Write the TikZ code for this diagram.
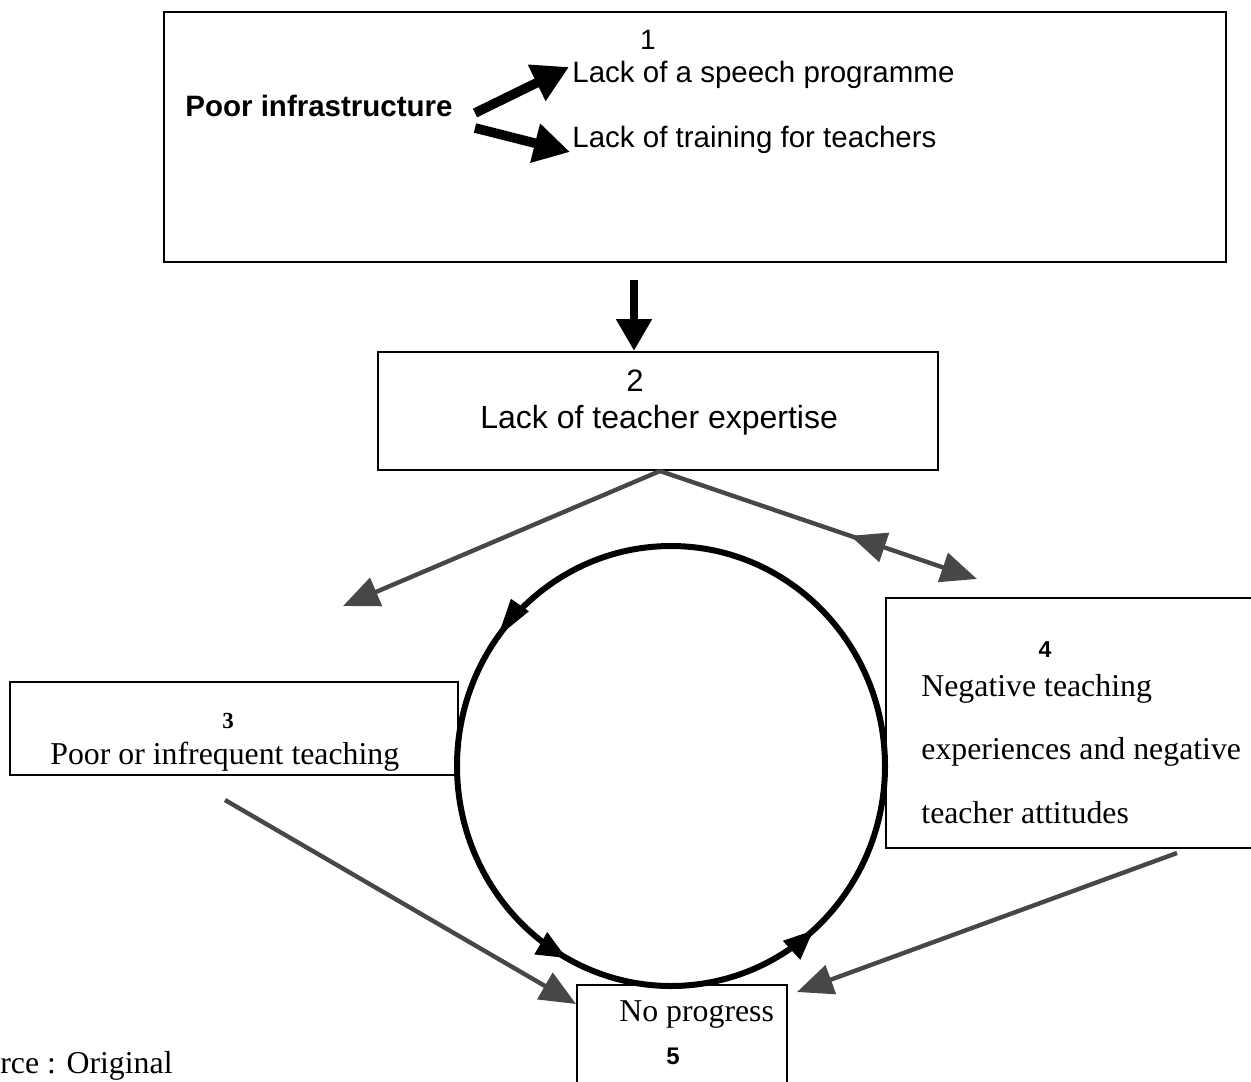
\documentclass[tikz,border=0pt]{standalone}
\usepackage{fontspec}
\setmainfont{Liberation Serif}
\newfontfamily\arial{Liberation Sans}
\usetikzlibrary{arrows.meta,decorations.markings}
\begin{document}
\begin{tikzpicture}[x=0.5pt,y=-0.5pt,
  box/.style={draw, line width=1pt, inner sep=0pt, fill=none},
  txt/.style={inner sep=0pt, anchor=base west},
  num/.style={inner sep=0pt, anchor=base},
  sansA/.style={font=\arial\fontsize{14.75}{17}\selectfont},
  sansB/.style={font=\arial\fontsize{16}{19}\selectfont},
  serif/.style={font=\fontsize{15.9}{19}\selectfont},
  bigarrow/.style={line width=4.8pt, -{Triangle[length=18pt,width=19pt]}},
  grayarrow/.style={draw=black!72, line width=2.2pt, -{Triangle[length=18pt,width=15pt]}, black!72},
  cyc/.style={line width=3pt}
]
\useasboundingbox (0,0) rectangle (1251,1081);

% boxes
\node (b1) [box, minimum width=531pt, minimum height=125pt] at (695,137) {};
\node (b2) [box, minimum width=280pt, minimum height=59pt] at (658,411) {};
\node (b3) [box, minimum width=224pt, minimum height=46.5pt] at (234,728.5) {};
\node (b4) [box, minimum width=188pt, minimum height=125pt] at (1074,723) {};
\node (b5) [box, minimum width=105pt, minimum height=55pt] at (682,1040) {};

% box 1 text
\node (n1) [num, font=\arial\fontsize{14}{16}\selectfont] at (648,50) {1};
\node (poor) [txt, font=\arial\bfseries\fontsize{14.75}{17}\selectfont] at (185,117) {Poor infrastructure};
\node (lsp) [txt, sansA] at (572,83) {Lack of a speech programme};
\node (ltr) [txt, sansA] at (572,148) {Lack of training for teachers};

% box 2 text
\node (n2) [num, font=\arial\fontsize{15.5}{18}\selectfont] at (635,391) {2};
\node (lte) [txt, sansB] at (480,428) {Lack of teacher expertise};

% box 3 text
\node (n3) [num, font=\fontsize{11.5}{13}\selectfont\bfseries] at (228,728) {3};
\node (pit) [txt, serif] at (50,764) {Poor or infrequent teaching};

% box 4 text
\node (n4) [num, font=\arial\bfseries\fontsize{11.5}{13}\selectfont] at (1045,657) {4};
\node (nt1) [txt, serif] at (921,696) {Negative teaching};
\node (nt2) [txt, serif] at (921,759) {experiences and negative};
\node (nt3) [txt, serif] at (921,823) {teacher attitudes};

% box 5 text
\node (np) [txt, serif] at (619,1021) {No progress};
\node (n5) [num, font=\arial\bfseries\fontsize{12}{14}\selectfont] at (673,1064) {5};

% source
\node (src) [txt, serif] at (0,1073) {rce : Original};

% arrows in box 1
\coordinate (s1) at (475,113);
\coordinate (t1) at (569,67);
\coordinate (s2) at (475,128);
\coordinate (t2) at (570,152);
\draw[bigarrow] (s1) -- (t1);
\draw[bigarrow] (s2) -- (t2);

% box 1 -> box 2
\coordinate (v1) at (634,280);
\draw[line width=4pt, -{Triangle[length=16pt,width=17pt]}] (v1) -- (b2.north -| v1);

% box 2 -> left / right
\coordinate (apex) at (660,471);
\coordinate (el) at (343,606);
\coordinate (er) at (977,579);
\draw[grayarrow] (apex) -- (el);
\draw[grayarrow, postaction={decorate},
  decoration={markings, mark=at position 0.6 with {\arrowreversed{Triangle[length=18pt,width=15pt]}}}] (apex) -- (er);

% cycle
\draw[cyc, postaction={decorate},
  decoration={markings,
    mark=at position 0.40 with {\arrow{Triangle[length=20pt,width=10pt]}},
    mark=at position 0.67 with {\arrow{Triangle[length=15pt,width=12pt]}},
    mark=at position 0.865 with {\arrow{Triangle[length=15pt,width=12pt]}}}]
  (885,766) arc[start angle=0, end angle=-360, x radius=214, y radius=220];

% into box 5
\coordinate (f3) at (225,800);
\coordinate (f4) at (1177,853);
\draw[grayarrow] (f3) -- (b5.north west |- 0,1004);
\draw[grayarrow] (f4) -- (797,992);
\end{tikzpicture}
\end{document}
